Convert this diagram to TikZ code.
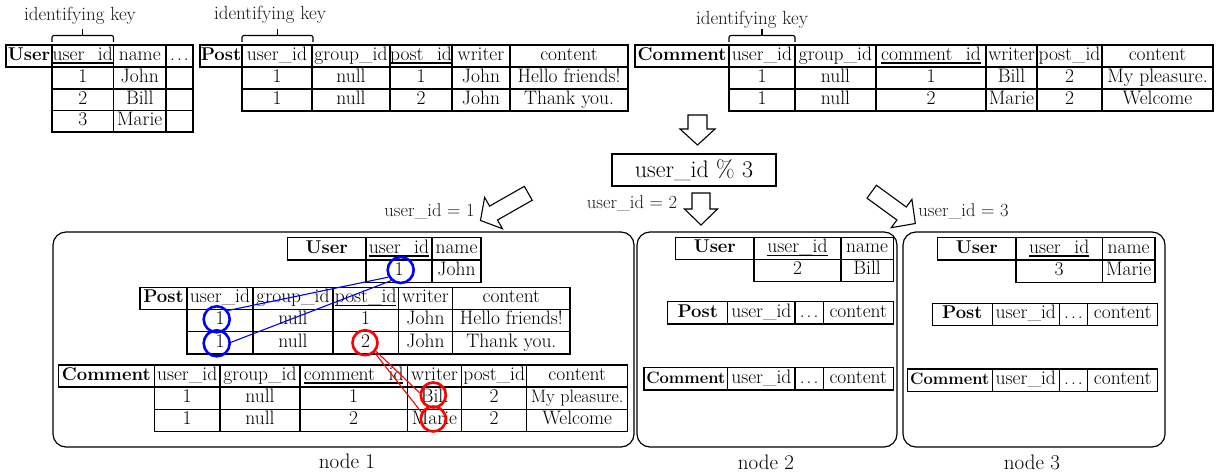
\documentclass[tikz,border=0pt]{standalone}
\usepackage{fontspec}
\newcommand{\keyul}[1]{\setbox0=\hbox{#1}\rlap{\rule[-3.5pt]{\wd0}{1.5pt}}\box0}
\tikzset{
 tcell/.style={draw, line width=1.3pt, inner sep=0pt, text height=13pt, text depth=4.5pt, font=\fontsize{19.5}{21}\selectfont},
 lbl/.style={inner sep=0pt, font=\fontsize{18.5}{20}\selectfont, text=black!90},
 iklbl/.style={inner sep=0pt, font=\fontsize{19}{21}\selectfont, text=black!90},
 nlbl/.style={inner sep=0pt, font=\fontsize{21}{23}\selectfont},
 nodebox/.style={draw, line width=1.2pt, rounded corners=13pt, inner sep=0pt},
 hollow/.style={draw, line width=1.1pt, fill=white, line join=miter},
 bluering/.style={circle, draw=blue, line width=2.6pt, minimum size=26pt, inner sep=0pt},
 redring/.style={circle, draw=red, line width=2.6pt, minimum size=25pt, inner sep=0pt},
 blueline/.style={draw=blue, line width=1.1pt},
 redline/.style={draw=red, line width=1.1pt},
 bracket/.style={draw, line width=1.1pt, rounded corners=2pt},
 modbox/.style={draw, line width=1.2pt, inner sep=0pt, font=\fontsize{24}{26}\selectfont},
}
% row of cells: prefix, y top, y bottom, list x1/x2/text
\newcommand{\trow}[4]{\foreach \xa/\xb/\tx [count=\ci] in {#4} {\node[tcell, minimum width={(\xb-\xa)*1pt}, minimum height={(#3-#2)*1pt}] (#1-\ci) at ({(\xa+\xb)/2},{(#2+#3)/2}) {\tx};}}
% block arrow: tail x, tail y, angle, shaft length, head length, shaft half width, head half width
\newcommand{\blockarrow}[7]{\begin{scope}[shift={(#1,#2)}, rotate=#3]
 \draw[hollow] (0,-#6) -- (#4,-#6) -- (#4,-#7) -- (#4+#5,0) -- (#4,#7) -- (#4,#6) -- (0,#6) -- cycle;
 \end{scope}}
\newcommand{\hdr}[1]{{\fontsize{18.5}{20}\selectfont\textbf{#1}}}
\newcommand{\smallbf}[1]{{\fontsize{16.5}{18}\selectfont\textbf{#1}}}
\newcommand{\tight}[1]{{\fontsize{18}{20}\selectfont #1}}
\newcommand{\dotsx}{.\kern2pt.\kern2pt.}
\begin{document}
\begin{tikzpicture}[x=1pt,y=-1pt]
\useasboundingbox (0,0) rectangle (1220,474);
\fill[white] (0,0) rectangle (1220,474);

% ---------- top tables ----------
\node[iklbl] (ik1) at (80,16) {identifying key};
\draw[bracket] (52,42) -- (52,35.5) -- (113.5,35.5) -- (113.5,42);
\draw[bracket] (82.75,35.5) -- (82.75,29);
\trow{tu0}{45}{67}{6/52/{\hdr{User}}, 52/113.5/{\keyul{user\_id}}, 113.5/166/name, 166/193/{\dotsx}}
\trow{tu1}{67}{89}{52/113.5/1, 113.5/166/John, 166/193/{}}
\trow{tu2}{89}{110.5}{52/113.5/2, 113.5/166/Bill, 166/193/{}}
\trow{tu3}{110.5}{132}{52/113.5/3, 113.5/166/Marie, 166/193/{}}

\node[iklbl] (ik2) at (270,15) {identifying key};
\draw[bracket] (242,42) -- (242,35.5) -- (313,35.5) -- (313,42);
\draw[bracket] (277.5,35.5) -- (277.5,29);
\trow{tp0}{45}{67}{200/242/{\hdr{Post}}, 242/312/{user\_id}, 312/390/{group\_id}, 390/452/{\keyul{post\_id}}, 452/510/writer, 510/628/content}
\trow{tp1}{67}{89}{242/312/1, 312/390/null, 390/452/1, 452/510/John, 510/628/{Hello friends!}}
\trow{tp2}{89}{111}{242/312/1, 312/390/null, 390/452/2, 452/510/John, 510/628/{Thank you.}}

\node[iklbl] (ik3) at (752,20) {identifying key};
\draw[bracket] (729,42) -- (729,35.5) -- (795,35.5) -- (795,42);
\draw[bracket] (762,35.5) -- (762,29);
\trow{tc0}{45}{67}{635/729/{\hdr{Comment}}, 729/795/{user\_id}, 795/876/{group\_id}, 876/986/{\keyul{comment\_id}}, 986/1037/writer, 1037/1102/{post\_id}, 1102/1213/content}
\trow{tc1}{67}{89}{729/795/1, 795/876/null, 876/986/1, 986/1037/Bill, 1037/1102/2, 1102/1213/{My pleasure.}}
\trow{tc2}{89}{111}{729/795/1, 795/876/null, 876/986/2, 986/1037/Marie, 1037/1102/2, 1102/1213/Welcome}

% ---------- hashing ----------
\blockarrow{697.5}{115}{-90}{14}{16}{9.5}{17.5}
\node[modbox, minimum width=164pt, minimum height=32pt] (mod) at (694,170) {user\_id \% 3};
\blockarrow{528.3}{193.3}{209.6}{40}{15}{8}{18}
\blockarrow{701}{193}{-90}{16}{16}{9}{16.5}
\blockarrow{871.7}{191.7}{-36.1}{37}{17}{8}{17.5}
\node[lbl] (k1) at (429.5,211.7) {user\_id = 1};
\node[lbl] (k2) at (632,203) {user\_id = 2};
\node[lbl] (k3) at (963.5,211.7) {user\_id = 3};

% ---------- node boxes ----------
\node[nodebox, minimum width=581pt, minimum height=215pt] (n1) at (343.5,339.5) {};
\node[nodebox, minimum width=260pt, minimum height=215pt] (n2) at (767,339.5) {};
\node[nodebox, minimum width=262pt, minimum height=215pt] (n3) at (1034,339.5) {};
\node[nlbl] (n1l) at (347,461) {node 1};
\node[nlbl] (n2l) at (766,462) {node 2};
\node[nlbl] (n3l) at (1032,462) {node 3};

% node 1
\trow{au0}{237.5}{260}{287.5/366/{\hdr{User}}, 366/432/{\keyul{user\_id}}, 432/481/name}
\trow{au1}{260}{282.3}{366/432/1, 432/481/John}
\trow{ap0}{287.3}{309.3}{140/187/{\hdr{Post}}, 187/253/{user\_id}, 253/333/{group\_id}, 333/398.3/{\keyul{post\_id}}, 398.3/452.7/writer, 452.7/570/content}
\trow{ap1}{309.3}{331.7}{187/253/1, 253/333/null, 333/398.3/1, 398.3/452.7/John, 452.7/570/{Hello friends!}}
\trow{ap2}{331.7}{354}{187/253/1, 253/333/null, 333/398.3/2, 398.3/452.7/John, 452.7/570/{Thank you.}}
\trow{ac0}{365}{387}{58.3/154.3/{\hdr{Comment}}, 154.3/220/{user\_id}, 220/300/{group\_id}, 300/407.3/{\keyul{comment\_id}}, 407.3/461.7/writer, 461.7/526.7/{post\_id}, 526.7/627.7/content}
\trow{ac1}{387}{409.3}{154.3/220/1, 220/300/null, 300/407.3/1, 407.3/461.7/Bill, 461.7/526.7/2, 526.7/627.7/{\tight{My pleasure.}}}
\trow{ac2}{409.3}{431.7}{154.3/220/1, 220/300/null, 300/407.3/2, 407.3/461.7/Marie, 461.7/526.7/2, 526.7/627.7/Welcome}

% node 2
\trow{bu0}{237.7}{259.3}{675.7/754/{\hdr{User}}, 754/841/{\keyul{user\_id}}, 841/893.3/name}
\trow{bu1}{259.3}{281.7}{754/841/2, 841/893.3/Bill}
\trow{bp0}{301.7}{324}{667.7/727.7/{\hdr{Post}}, 727.7/795/{user\_id}, 795/823.3/{\dotsx}, 823.3/893.3/content}
\trow{bc0}{367.7}{390}{644/727.7/{\smallbf{Comment}}, 727.7/795/{user\_id}, 795/823.3/{\dotsx}, 823.3/893.3/content}

% node 3
\trow{cu0}{237.7}{260}{937.7/1016/{\hdr{User}}, 1016/1102.3/{\keyul{user\_id}}, 1102.3/1155/name}
\trow{cu1}{260}{282.3}{1016/1102.3/3, 1102.3/1155/Marie}
\trow{cp0}{303.3}{325.7}{932.3/992.3/{\hdr{Post}}, 992.3/1059.3/{user\_id}, 1059.3/1087.7/{\dotsx}, 1087.7/1157.7/content}
\trow{cc0}{369}{391.7}{907.3/992.3/{\smallbf{Comment}}, 992.3/1059.3/{user\_id}, 1059.3/1087.7/{\dotsx}, 1087.7/1157.7/content}

% ---------- highlights in node 1 ----------
\node[bluering] (ru) at (400.7,270) {};
\node[bluering] (rp1) at (216.7,319.3) {};
\node[bluering] (rp2) at (216.7,343.3) {};
\draw[blueline] (rp1.38) -- (ru.210);
\draw[blueline] (rp2.4) -- (ru.228);
\node[redring] (rq) at (365,342.7) {};
\node[redring] (rb) at (433.3,395) {};
\node[redring] (rm) at (433.3,419) {};
\draw[redline] (rq.-38) -- (rb.171);
\draw[redline] (rq.-46) -- (rm.150);
\end{tikzpicture}
\end{document}
